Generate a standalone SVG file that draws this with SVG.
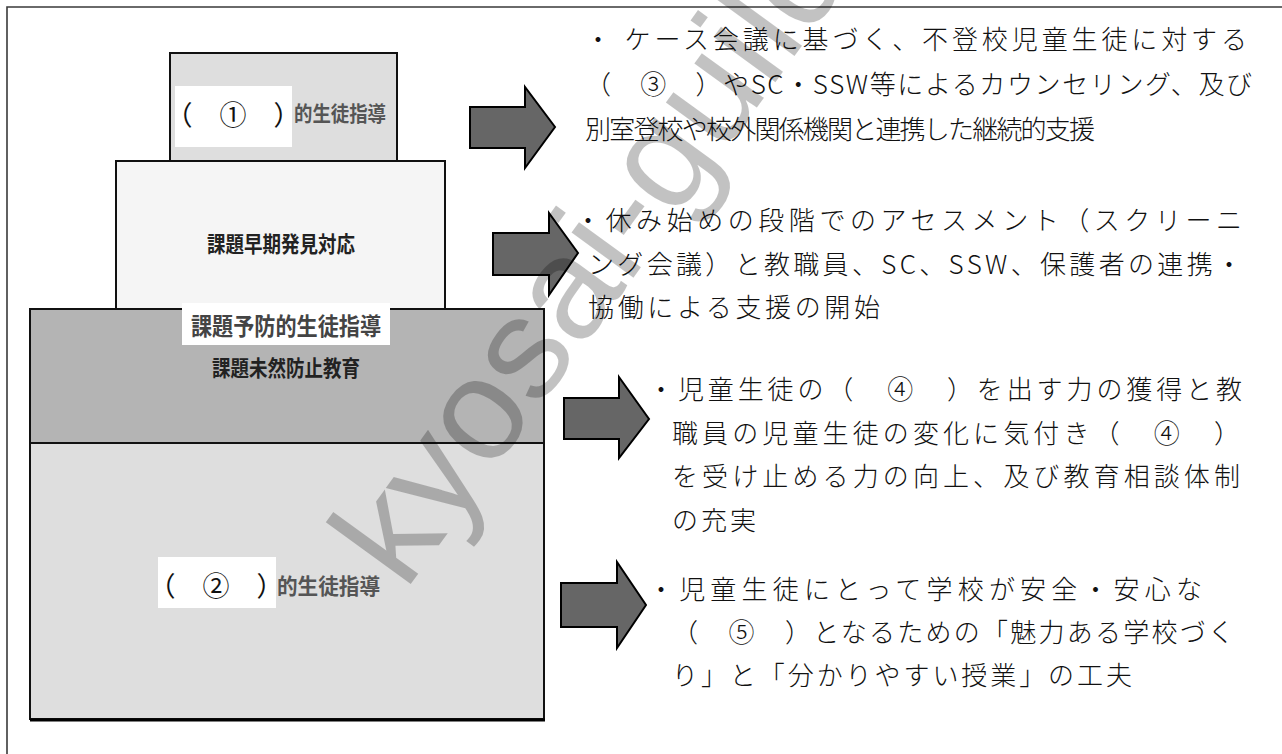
<svg xmlns="http://www.w3.org/2000/svg" width="1282" height="754" viewBox="0 0 1282 754">
<defs>
<style>
.frame{fill:none;stroke:#3a3a3a;stroke-width:1.6}
.box{stroke:#111;stroke-width:2}
.lbl{font-family:"Noto Sans CJK JP","Liberation Sans",sans-serif;font-weight:bold;dominant-baseline:central}
.blank{font-family:"Noto Sans CJK JP","Liberation Serif",serif;font-size:27px;fill:#111;dominant-baseline:central}
.desc{font-family:"Noto Sans CJK JP","Liberation Sans",sans-serif;font-size:26px;font-weight:300;fill:#111;dominant-baseline:central}
.arrow{fill:#666;stroke:#000;stroke-width:2;stroke-linejoin:miter}
.wm{font-family:"Liberation Sans",sans-serif;font-size:145px;fill:#000;fill-opacity:0.24}
</style>
</defs>
<rect width="1282" height="754" fill="#fff"/>
<polyline class="frame" points="7,754 7,7 1282,7"/>

<g id="node-top">
<rect class="box" x="170" y="53" width="227" height="108" fill="#dedede"/>
<rect x="175" y="86" width="117" height="61" fill="#fff"/>
<text class="blank" x="233" y="113" text-anchor="middle">（　①　）</text>
<text class="lbl" x="294" y="112" font-size="21" fill="#555" textLength="92" lengthAdjust="spacingAndGlyphs">的生徒指導</text>
</g>

<g id="node-early">
<rect class="box" x="116" y="161" width="329" height="160" fill="#f5f5f5"/>
<text class="lbl" x="281" y="242" font-size="22" fill="#222" text-anchor="middle" textLength="148" lengthAdjust="spacingAndGlyphs">課題早期発見対応</text>
</g>

<g id="node-prevent">
<rect class="box" x="30" y="309" width="514" height="134" fill="#b4b4b4"/>
<rect class="box" x="30" y="443" width="514" height="276" fill="#dedede"/>
<path d="M30,720 H545" stroke="#000" stroke-width="3"/>
<rect x="182" y="303" width="208" height="42" fill="#fff"/>
<text class="lbl" x="286" y="324" font-size="24" fill="#444" text-anchor="middle" textLength="190" lengthAdjust="spacingAndGlyphs">課題予防的生徒指導</text>
<text class="lbl" x="286" y="366" font-size="22" fill="#222" text-anchor="middle" textLength="148" lengthAdjust="spacingAndGlyphs">課題未然防止教育</text>
</g>

<g id="node-support">
<rect x="158" y="557" width="118" height="51" fill="#fff"/>
<text class="blank" x="216" y="584" text-anchor="middle">（　②　）</text>
<text class="lbl" x="277" y="584" font-size="22" fill="#555" textLength="103" lengthAdjust="spacingAndGlyphs">的生徒指導</text>
</g>

<g id="connectors">
<polygon class="arrow" points="470,107 525,107 525,87 555,127 525,168 525,148 470,148"/>
<polygon class="arrow" points="493,233 549,233 549,213 578,253 549,295 549,275 493,275"/>
<polygon class="arrow" points="564,398 619,398 619,377 649,419 619,458 619,439 564,439"/>
<polygon class="arrow" points="561,583 617,583 617,562 646,605 617,648 617,627 561,627"/>
</g>

<g id="text-1">
<text class="desc" x="585" y="37" textLength="662" lengthAdjust="spacing">・ ケース会議に基づく、不登校児童生徒に対する</text>
<text class="desc" x="585" y="82" textLength="667" lengthAdjust="spacing">（　③　）やSC・SSW等によるカウンセリング、及び</text>
<text class="desc" x="585" y="127" textLength="510" lengthAdjust="spacing">別室登校や校外関係機関と連携した継続的支援</text>
</g>
<g id="text-2">
<text class="desc" x="575" y="218" textLength="667" lengthAdjust="spacing">・休み始めの段階でのアセスメント（スクリーニ</text>
<text class="desc" x="588" y="262" textLength="654" lengthAdjust="spacing">ング会議）と教職員、SC、SSW、保護者の連携・</text>
<text class="desc" x="588" y="305" textLength="292" lengthAdjust="spacing">協働による支援の開始</text>
</g>
<g id="text-3">
<text class="desc" x="648" y="387" textLength="594" lengthAdjust="spacing">・児童生徒の（　④　）を出す力の獲得と教</text>
<text class="desc" x="672" y="431" textLength="568" lengthAdjust="spacing">職員の児童生徒の変化に気付き（　④　）</text>
<text class="desc" x="672" y="474" textLength="568" lengthAdjust="spacing">を受け止める力の向上、及び教育相談体制</text>
<text class="desc" x="672" y="518" textLength="84" lengthAdjust="spacing">の充実</text>
</g>
<g id="text-4">
<text class="desc" x="648" y="587" textLength="554" lengthAdjust="spacing">・児童生徒にとって学校が安全・安心な</text>
<text class="desc" x="672" y="630" textLength="562" lengthAdjust="spacing">（　⑤　）となるための「魅力ある学校づく</text>
<text class="desc" x="672" y="673" textLength="460" lengthAdjust="spacing">り」と「分かりやすい授業」の工夫</text>
</g>

<text class="wm" transform="translate(405,592) rotate(-54)">kyosai-guild.jp</text>
</svg>
